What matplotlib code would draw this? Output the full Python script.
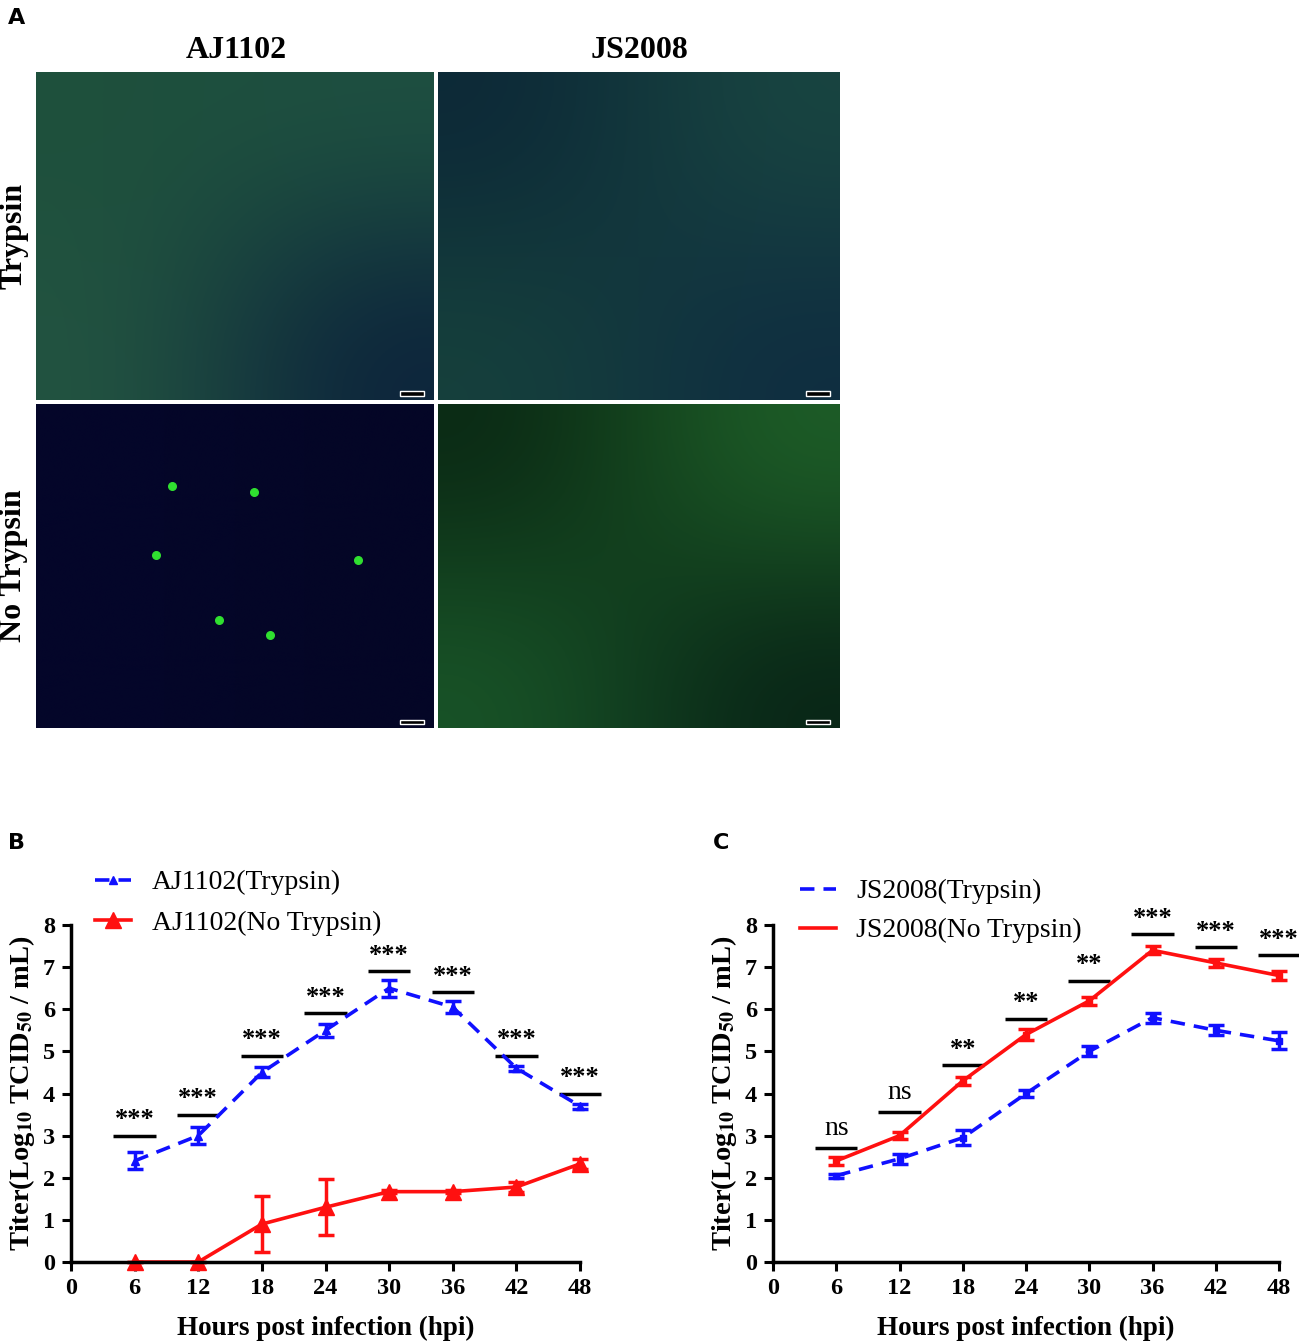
import numpy as np
import matplotlib
matplotlib.use("Agg")
import matplotlib.pyplot as plt
from matplotlib.patches import Rectangle
from matplotlib.lines import Line2D

plt.rcParams['font.family'] = ['Liberation Serif', 'DejaVu Serif']
plt.rcParams['mathtext.fontset'] = 'stix'

hours = [6, 12, 18, 24, 30, 36, 42, 48]

# panel B: AJ1102
aj_tryp = [2.4, 3.0, 4.5, 5.5, 6.5, 6.05, 4.6, 3.7]
aj_tryp_err = [0.2, 0.2, 0.12, 0.15, 0.2, 0.15, 0.06, 0.06]
aj_notryp = [0.0, 0.0, 0.9, 1.3, 1.67, 1.67, 1.78, 2.33]
aj_notryp_err = [0.0, 0.0, 0.67, 0.67, 0.04, 0.04, 0.13, 0.12]
aj_sig_y = [3.0, 3.5, 4.9, 5.9, 6.9, 6.4, 4.9, 4.0]
aj_sig = ['***'] * 8

# panel C: JS2008
js_tryp = [2.05, 2.45, 2.95, 4.0, 5.0, 5.8, 5.5, 5.25]
js_tryp_err = [0.05, 0.12, 0.18, 0.08, 0.12, 0.12, 0.12, 0.2]
js_notryp = [2.4, 3.0, 4.3, 5.4, 6.2, 7.4, 7.1, 6.8]
js_notryp_err = [0.1, 0.08, 0.1, 0.12, 0.1, 0.1, 0.1, 0.1]
js_sig_y = [2.7, 3.55, 4.68, 5.78, 6.68, 7.78, 7.48, 7.28]
js_sig = ['ns', 'ns', '**', '**', '**', '***', '***', '***']

# panel A: mean tint of each micrograph (corner colours) and bright foci
img_titles = ['AJ1102', 'JS2008']
img_rows = ['Trypsin', 'No Trypsin']
img_tints = {
    (0, 0): [[(30, 80, 60), (30, 80, 65)], [(35, 85, 65), (12, 35, 60)]],
    (0, 1): [[(12, 40, 55), (25, 70, 65)], [(22, 65, 60), (15, 45, 65)]],
    (1, 0): [[(4, 6, 42), (4, 6, 38)], [(4, 6, 42), (4, 6, 38)]],
    (1, 1): [[(10, 40, 20), (30, 95, 40)], [(25, 85, 40), (8, 35, 22)]],
}
foci_x = [0.342, 0.548, 0.302, 0.809, 0.460, 0.588]
foci_y = [0.747, 0.728, 0.534, 0.519, 0.333, 0.287]

W, H = 1299, 1342
fig = plt.figure(figsize=(W / 100, H / 100), dpi=100)


def fx(px):
    return px / W


def fy(py):
    return 1 - py / H


# ---- panel A ----
col_x = [(36, 434), (438, 840)]
row_y = [(72, 400), (404, 728)]
for r in range(2):
    for c in range(2):
        x0, x1 = col_x[c]
        y0, y1 = row_y[r]
        ax = fig.add_axes([fx(x0), fy(y1), fx(x1 - x0), (y1 - y0) / H])
        tint = np.array(img_tints[(r, c)], dtype=float) / 255
        ax.imshow(tint, interpolation='bicubic', extent=[0, 1, 0, 1], aspect='auto')
        if (r, c) == (1, 0):
            ax.scatter(foci_x, foci_y, s=30, color='#30e030', marker='o', zorder=3)
        ax.add_patch(Rectangle((0.915, 0.012), 0.06, 0.014, facecolor='black',
                               edgecolor='white', lw=1))
        ax.set_xlim(0, 1)
        ax.set_ylim(0, 1)
        ax.axis('off')

fig.text(fx(236), fy(50), img_titles[0], ha='center', va='center', fontsize=23, fontweight='bold')
fig.text(fx(640), fy(50), img_titles[1], ha='center', va='center', fontsize=23, fontweight='bold')
fig.text(fx(14), fy(236), img_rows[0], ha='center', va='center', fontsize=23, fontweight='bold', rotation=90)
fig.text(fx(14), fy(566), img_rows[1], ha='center', va='center', fontsize=23, fontweight='bold', rotation=90)

for lab, px, py in [('A', 8, 18), ('B', 8, 843), ('C', 713, 843)]:
    fig.text(fx(px), fy(py), lab, ha='left', va='center', fontsize=16, fontweight='bold',
             family='DejaVu Sans')

DASH = (0, (4, 2.5))


# ---- panels B and C ----
def line_panel(left_px, right_px, tryp, tryp_err, notryp, notryp_err, sig_y, sig, mark):
    ax = fig.add_axes([fx(left_px), fy(1262), fx(right_px - left_px), (1262 - 925) / H])
    ax.errorbar(hours, tryp, yerr=tryp_err, color='#1010ff', ls=DASH, lw=2.6,
                marker='^' if mark else 's', ms=6 if mark else 4,
                capsize=6, capthick=2.5, elinewidth=2.5, clip_on=False)
    ax.errorbar(hours, notryp, yerr=notryp_err, color='#ff1010', ls='-', lw=2.6,
                marker='^' if mark else 's', ms=11 if mark else 4,
                capsize=6, capthick=2.5, elinewidth=2.5, clip_on=False)
    for h, y, s in zip(hours, sig_y, sig):
        ax.plot([h - 2, h + 2], [y, y], color='black', lw=2.5, solid_capstyle='butt', clip_on=False)
        if s == 'ns':
            ax.text(h, y + 0.17, s, ha='center', va='bottom', fontsize=20, clip_on=False)
        else:
            ax.text(h, y + 0.1, s, ha='center', va='bottom', fontsize=19, fontweight='bold',
                    clip_on=False)
    ax.set_xlim(0, 48)
    ax.set_ylim(0, 8)
    ax.set_xticks(range(0, 49, 6))
    ax.set_yticks(range(0, 9))
    ax.spines['top'].set_visible(False)
    ax.spines['right'].set_visible(False)
    for sp in ['left', 'bottom']:
        ax.spines[sp].set_linewidth(2.5)
    ax.tick_params(width=2.2, length=6.5, labelsize=17.5, pad=5)
    for t in ax.get_xticklabels() + ax.get_yticklabels():
        t.set_fontweight('bold')
        t.set_fontfamily('Liberation Serif')
    ax.set_xlabel('Hours post infection (hpi)', fontsize=19.5, fontweight='bold', labelpad=12)
    ax.set_ylabel(r'Titer(Log$_{\mathbf{10}}$ TCID$_{\mathbf{50}}$ / mL)', fontsize=20.5,
                  fontweight='bold', labelpad=4)
    return ax


axB = line_panel(71, 580, aj_tryp, aj_tryp_err, aj_notryp, aj_notryp_err, aj_sig_y, aj_sig, True)
axC = line_panel(773, 1279, js_tryp, js_tryp_err, js_notryp, js_notryp_err, js_sig_y, js_sig, False)

handlesB = [Line2D([], [], color='#1010ff', ls=DASH, lw=2.6, marker='^', ms=6),
            Line2D([], [], color='#ff1010', ls='-', lw=2.6, marker='^', ms=11)]
handlesC = [Line2D([], [], color='#1010ff', ls=DASH, lw=2.6),
            Line2D([], [], color='#ff1010', ls='-', lw=2.6)]

axB.legend(handlesB, ['AJ1102(Trypsin)', 'AJ1102(No Trypsin)'], loc='upper left',
           bbox_to_anchor=(fx(95), fy(870)), bbox_transform=fig.transFigure, frameon=False,
           fontsize=20, handlelength=1.3, handletextpad=0.75, labelspacing=0.53, borderaxespad=0,
           borderpad=0)
axC.legend(handlesC, ['JS2008(Trypsin)', 'JS2008(No Trypsin)'], loc='upper left',
           bbox_to_anchor=(fx(800), fy(879)), bbox_transform=fig.transFigure, frameon=False,
           fontsize=20, handlelength=1.3, handletextpad=0.72, labelspacing=0.48, borderaxespad=0,
           borderpad=0)

fig.savefig('out.png', dpi=100)
